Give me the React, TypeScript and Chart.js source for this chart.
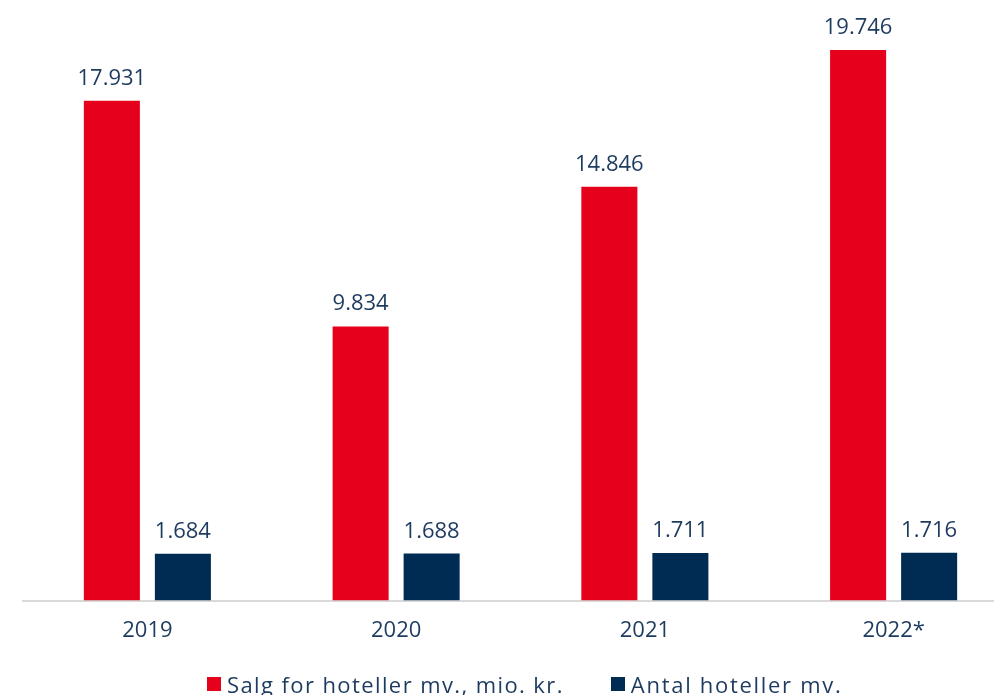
import React, { useEffect, useRef } from "react";
import { Chart, registerables } from "chart.js";

Chart.register(...registerables);

const categories = ["2019", "2020", "2021", "2022*"];
const salgLabel = "Salg for hoteller mv., mio. kr.";
const antalLabel = "Antal hoteller mv.";
const salgValues = [17931, 9834, 14846, 19746];
const antalValues = [1684, 1688, 1711, 1716];

const RED = "#E5001B";
const NAVY = "#002B52";
const TEXT = "#1d3a5f";
const FONT = "'Open Sans', sans-serif";

function formatDa(v: number): string {
  return String(Math.round(v)).replace(/\B(?=(\d{3})+(?!\d))/g, ".");
}

const valueLabels = {
  id: "valueLabels",
  afterDatasetsDraw(chart: any) {
    const ctx = chart.ctx;
    ctx.save();
    ctx.font = `22px ${FONT}`;
    ctx.fillStyle = TEXT;
    ctx.textAlign = "center";
    ctx.textBaseline = "alphabetic";
    chart.data.datasets.forEach((ds: any, di: number) => {
      const meta = chart.getDatasetMeta(di);
      meta.data.forEach((bar: any, i: number) => {
        ctx.fillText(formatDa(ds.data[i]), bar.x, bar.y - 16);
      });
    });
    ctx.restore();
  },
};

export default function App() {
  const ref = useRef<HTMLCanvasElement | null>(null);

  useEffect(() => {
    if (!ref.current) return;
    const chart = new Chart(ref.current, {
      type: "bar",
      data: {
        labels: categories,
        datasets: [
          {
            label: salgLabel,
            data: salgValues,
            backgroundColor: RED,
            categoryPercentage: 0.571,
            barPercentage: 0.789,
          },
          {
            label: antalLabel,
            data: antalValues,
            backgroundColor: NAVY,
            categoryPercentage: 0.571,
            barPercentage: 0.789,
          },
        ],
      },
      options: {
        animation: false,
        responsive: true,
        maintainAspectRatio: false,
        layout: { padding: { left: 23, right: 2, top: 43, bottom: 17 } },
        plugins: {
          legend: { display: false },
          tooltip: { enabled: false },
        },
        scales: {
          x: {
            grid: { display: false, drawTicks: false },
            border: { display: true, color: "#d9d9d9", width: 2 },
            ticks: {
              color: TEXT,
              font: { family: FONT, size: 22 },
              padding: 17,
            },
          },
          y: {
            display: false,
            min: 0,
            max: 20000,
          },
        },
      },
      plugins: [valueLabels],
    });
    return () => chart.destroy();
  }, []);

  return (
    <div
      style={{
        position: "fixed",
        left: 0,
        top: 0,
        width: 994,
        height: 695,
        overflow: "hidden",
        background: "#fff",
      }}
    >
      <div style={{ position: "absolute", left: 0, top: 0, width: 1020, height: 678 }}>
        <canvas ref={ref} />
      </div>
      <div
        style={{
          position: "absolute",
          left: 207,
          top: 671,
          display: "flex",
          alignItems: "center",
          fontFamily: FONT,
          fontSize: 22,
          lineHeight: "26px",
          color: TEXT,
          whiteSpace: "nowrap",
        }}
      >
        <span style={{ width: 14, height: 14, background: RED, display: "inline-block", marginRight: 6, flex: "none" }} />
        <span style={{ letterSpacing: 1.4 }}>{salgLabel}</span>
        <span
          style={{ width: 14, height: 14, background: NAVY, display: "inline-block", marginLeft: 47, marginRight: 6, flex: "none" }}
        />
        <span style={{ letterSpacing: 1.7 }}>{antalLabel}</span>
      </div>
    </div>
  );
}
